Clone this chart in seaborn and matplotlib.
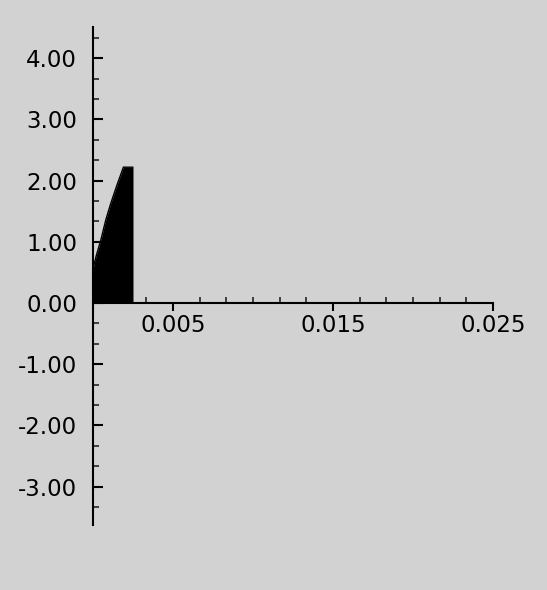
import numpy as np
import pandas as pd
import matplotlib
matplotlib.use("Agg")
import matplotlib.pyplot as plt
import seaborn as sns
from matplotlib.ticker import MultipleLocator, FixedLocator, FormatStrFormatter

# 曲线数据
x_vals = [0.0, 0.00006, 0.0002, 0.0005, 0.0008, 0.0011, 0.0015, 0.0019, 0.0025]
y_vals = [0.55, 0.62, 0.77, 1.04, 1.36, 1.62, 1.93, 2.22, 2.22]

x_ticks = [0.005, 0.015, 0.025]
x_labels = ["0.005", "0.015", "0.025"]
y_ticks = [-3, -2, -1, 0, 1, 2, 3, 4]

df = pd.DataFrame({"x": x_vals, "y": y_vals})

sns.set_theme(style="ticks")
plt.rcParams['font.family'] = ['DejaVu Sans']

bg = '#d2d2d2'
fig = plt.figure(figsize=(5.47, 5.90), dpi=100, facecolor=bg)
ax = fig.add_axes([0.170, 0.110, 0.7313, 0.8441], facecolor=bg)

sns.lineplot(data=df, x="x", y="y", color="black", linewidth=1, ax=ax)
ax.fill_between(df["x"], 0, df["y"], color="black", linewidth=0)

ax.set_xlim(0, 0.025)
ax.set_ylim(-3.63, 4.51)

# 坐标轴样式
ax.spines['top'].set_visible(False)
ax.spines['right'].set_visible(False)
ax.spines['bottom'].set_position(('data', 0))
for s in ('left', 'bottom'):
    ax.spines[s].set_linewidth(1.5)
    ax.spines[s].set_color('black')

ax.xaxis.set_major_locator(FixedLocator(x_ticks))
ax.set_xticklabels(x_labels)
ax.xaxis.set_minor_locator(MultipleLocator(0.025 / 15))
ax.yaxis.set_major_locator(FixedLocator(y_ticks))
ax.yaxis.set_major_formatter(FormatStrFormatter('%.2f'))
ax.yaxis.set_minor_locator(MultipleLocator(1 / 3))

ax.tick_params(axis='x', which='major', direction='out', length=6, width=1.5,
               labelsize=16.5, pad=2, colors='black')
ax.tick_params(axis='x', which='minor', direction='in', length=4, width=1.2)
ax.tick_params(axis='y', which='major', direction='in', length=7, width=1.5,
               labelsize=16.5, pad=11.5, colors='black')
ax.tick_params(axis='y', which='minor', direction='in', length=4, width=1.2)

ax.set_xlabel("")
ax.set_ylabel("")
ax.grid(False)

fig.savefig("out.png", dpi=100, facecolor=bg)
